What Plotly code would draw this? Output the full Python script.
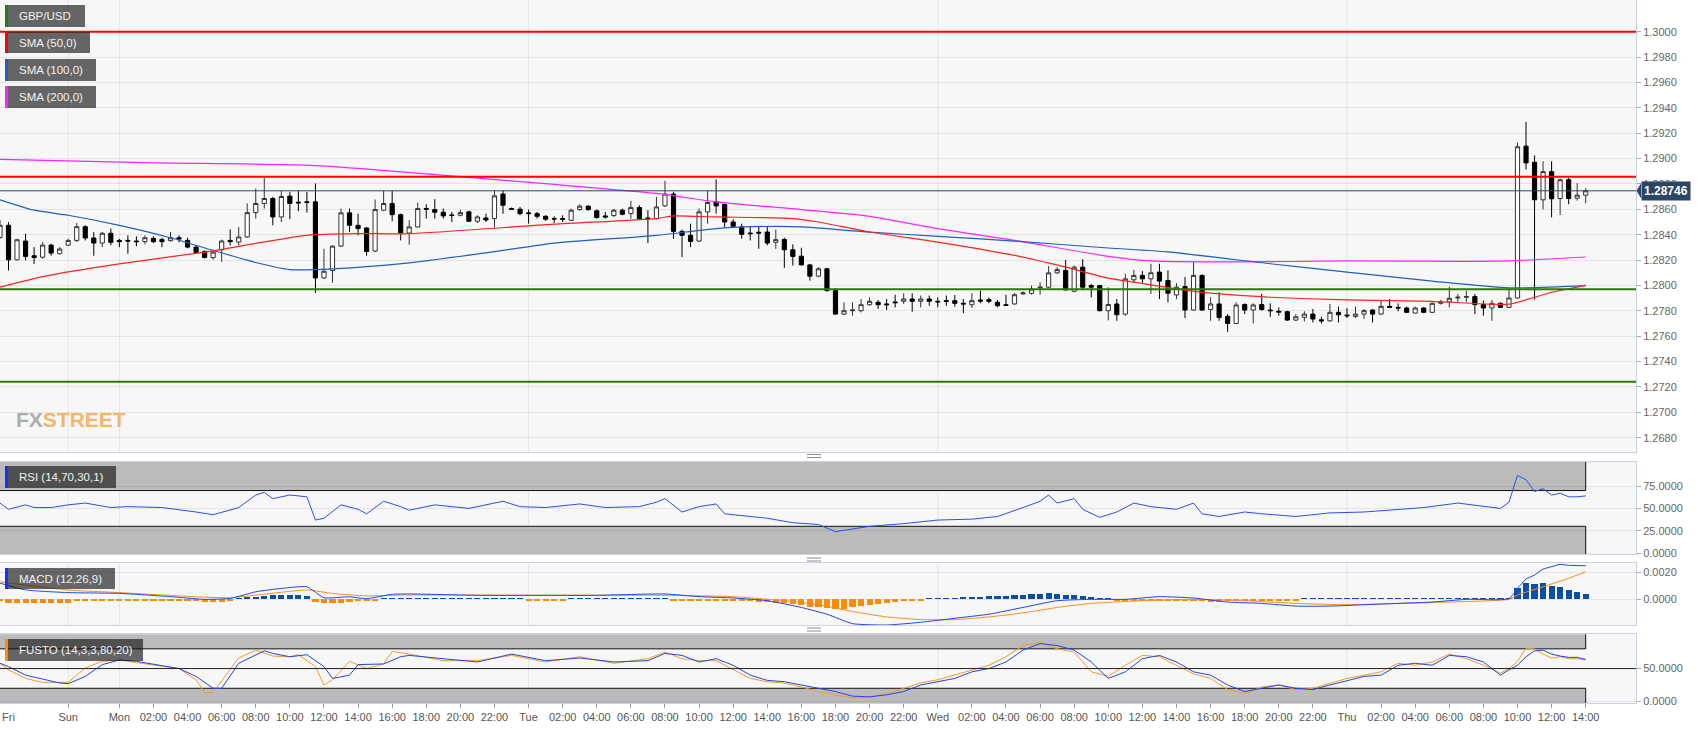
import plotly.graph_objects as go

# ---------------- data (half-hour candles, slot index) ----------------
open_ = [1.28377,1.28474,1.28202,1.28350,1.28234,1.28223,1.28318,1.28250,1.28318,1.28355,
1.28463,1.28374,1.28334,1.28411,1.28355,1.28355,1.28350,1.28345,1.28371,1.28361,
1.28353,1.28376,1.28355,1.28302,1.28268,1.28220,1.28281,1.28355,1.28342,1.28382,
1.28574,1.28646,1.28685,1.28540,1.28704,1.28656,1.28659,1.28659,1.28059,1.28118,
1.28310,1.28572,1.28474,1.28453,1.28271,1.28593,1.28646,1.28558,1.28413,1.28461,
1.28606,1.28598,1.28577,1.28556,1.28553,1.28580,1.28506,1.28532,1.28527,1.28720,
1.28606,1.28601,1.28572,1.28566,1.28545,1.28527,1.28527,1.28514,1.28598,1.28625,
1.28588,1.28548,1.28551,1.28593,1.28566,1.28614,1.28532,1.28527,1.28627,1.28720,
1.28426,1.28395,1.28350,1.28580,1.28659,1.28638,1.28500,1.28461,1.28413,1.28419,
1.28421,1.28340,1.28363,1.28281,1.28231,1.28162,1.28073,1.28131,1.27959,1.27774,
1.27801,1.27801,1.27848,1.27867,1.27854,1.27870,1.27875,1.27893,1.27875,1.27893,
1.27875,1.27880,1.27880,1.27859,1.27848,1.27885,1.27888,1.27867,1.27848,1.27854,
1.27933,1.27938,1.27980,1.27986,1.28099,1.28118,1.27954,1.28144,1.27999,1.27999,
1.27801,1.27854,1.27774,1.28044,1.28079,1.28052,1.28105,1.28039,1.27925,1.27991,
1.27806,1.28079,1.27811,1.27854,1.27756,1.27700,1.27849,1.27806,1.27849,1.27806,
1.27796,1.27793,1.27727,1.27748,1.27774,1.27729,1.27721,1.27788,1.27766,1.27756,
1.27774,1.27806,1.27774,1.27835,1.27827,1.27822,1.27782,1.27822,1.27788,1.27859,
1.27870,1.27901,1.27907,1.27912,1.27849,1.27822,1.27859,1.27827,1.27901,1.29098,
1.28971,1.28675,1.28897,1.28685,1.28833,1.28688,1.28712]
high = [1.28514,1.28500,1.28368,1.28408,1.28302,1.28342,1.28329,1.28302,1.28368,1.28492,
1.28474,1.28421,1.28421,1.28448,1.28368,1.28395,1.28387,1.28395,1.28387,1.28376,
1.28421,1.28395,1.28376,1.28316,1.28276,1.28276,1.28361,1.28442,1.28461,1.28646,
1.28764,1.28849,1.28698,1.28746,1.28738,1.28746,1.28738,1.28804,1.28289,1.28316,
1.28606,1.28606,1.28566,1.28461,1.28677,1.28746,1.28746,1.28566,1.28514,1.28654,
1.28640,1.28680,1.28606,1.28580,1.28598,1.28588,1.28553,1.28566,1.28746,1.28751,
1.28614,1.28619,1.28598,1.28580,1.28553,1.28545,1.28553,1.28606,1.28640,1.28632,
1.28598,1.28580,1.28603,1.28606,1.28667,1.28632,1.28593,1.28698,1.28825,1.28738,
1.28440,1.28487,1.28606,1.28746,1.28836,1.28646,1.28522,1.28487,1.28461,1.28466,
1.28466,1.28440,1.28376,1.28324,1.28297,1.28170,1.28144,1.28139,1.27980,1.27867,
1.27867,1.27893,1.27906,1.27885,1.27893,1.27927,1.27938,1.27938,1.27920,1.27920,
1.27906,1.27920,1.27925,1.27893,1.27938,1.27959,1.27906,1.27885,1.27927,1.27938,
1.27954,1.27999,1.28025,1.28152,1.28144,1.28202,1.28157,1.28207,1.28012,1.28004,
1.27985,1.27893,1.28092,1.28124,1.28113,1.28171,1.28171,1.28119,1.28018,1.28066,
1.28185,1.28087,1.27907,1.27946,1.27774,1.27867,1.27859,1.27859,1.27933,1.27859,
1.27827,1.27801,1.27774,1.27796,1.27814,1.27753,1.27854,1.27833,1.27822,1.27833,
1.27814,1.27814,1.27880,1.27893,1.27859,1.27833,1.27833,1.27827,1.27867,1.27886,
1.27991,1.27933,1.27960,1.27933,1.27880,1.27886,1.27867,1.27973,1.29125,1.29289,
1.29024,1.28979,1.28979,1.28841,1.28847,1.28807,1.28767]
low = [1.28368,1.28118,1.28197,1.28197,1.28170,1.28210,1.28234,1.28244,1.28310,1.28342,
1.28355,1.28234,1.28302,1.28316,1.28302,1.28250,1.28308,1.28324,1.28334,1.28302,
1.28345,1.28340,1.28292,1.28250,1.28213,1.28202,1.28186,1.28316,1.28316,1.28376,
1.28527,1.28606,1.28474,1.28500,1.28522,1.28585,1.28574,1.27941,1.28051,1.28022,
1.28302,1.28421,1.28395,1.28234,1.28263,1.28588,1.28506,1.28355,1.28321,1.28456,
1.28527,1.28527,1.28527,1.28500,1.28545,1.28500,1.28492,1.28500,1.28456,1.28566,
1.28598,1.28553,1.28487,1.28527,1.28509,1.28492,1.28500,1.28509,1.28588,1.28588,
1.28527,1.28527,1.28540,1.28553,1.28527,1.28514,1.28334,1.28519,1.28619,1.28368,
1.28223,1.28302,1.28342,1.28487,1.28566,1.28456,1.28461,1.28368,1.28355,1.28289,
1.28316,1.28289,1.28139,1.28157,1.28157,1.28038,1.28065,1.27951,1.27769,1.27767,
1.27761,1.27788,1.27840,1.27814,1.27806,1.27827,1.27854,1.27793,1.27827,1.27840,
1.27827,1.27840,1.27832,1.27782,1.27822,1.27859,1.27859,1.27827,1.27838,1.27848,
1.27927,1.27927,1.27927,1.27980,1.28091,1.27959,1.27946,1.27972,1.27906,1.27796,
1.27725,1.27721,1.27761,1.28018,1.28018,1.27933,1.27893,1.27867,1.27893,1.27743,
1.27801,1.27801,1.27721,1.27721,1.27634,1.27695,1.27774,1.27700,1.27801,1.27753,
1.27761,1.27721,1.27721,1.27716,1.27708,1.27700,1.27716,1.27708,1.27743,1.27743,
1.27735,1.27708,1.27769,1.27822,1.27796,1.27782,1.27780,1.27782,1.27782,1.27849,
1.27827,1.27867,1.27867,1.27774,1.27761,1.27721,1.27822,1.27822,1.27896,1.28913,
1.27888,1.28600,1.28537,1.28555,1.28640,1.28669,1.28648]
close = [1.28474,1.28202,1.28360,1.28229,1.28220,1.28318,1.28255,1.28287,1.28355,1.28463,
1.28374,1.28334,1.28411,1.28340,1.28345,1.28350,1.28345,1.28376,1.28345,1.28345,
1.28376,1.28366,1.28302,1.28260,1.28220,1.28263,1.28350,1.28345,1.28382,1.28574,
1.28646,1.28685,1.28540,1.28701,1.28646,1.28651,1.28654,1.28059,1.28112,1.28310,
1.28572,1.28474,1.28448,1.28268,1.28598,1.28646,1.28558,1.28413,1.28461,1.28606,
1.28601,1.28577,1.28548,1.28551,1.28574,1.28506,1.28540,1.28516,1.28706,1.28632,
1.28601,1.28566,1.28566,1.28545,1.28522,1.28524,1.28522,1.28593,1.28625,1.28598,
1.28535,1.28540,1.28593,1.28561,1.28614,1.28527,1.28527,1.28619,1.28720,1.28426,
1.28395,1.28347,1.28580,1.28654,1.28627,1.28500,1.28466,1.28403,1.28408,1.28413,
1.28334,1.28361,1.28281,1.28229,1.28162,1.28073,1.28131,1.27959,1.27774,1.27801,
1.27806,1.27848,1.27875,1.27848,1.27848,1.27864,1.27893,1.27875,1.27893,1.27875,
1.27870,1.27875,1.27859,1.27854,1.27880,1.27877,1.27875,1.27840,1.27843,1.27927,
1.27941,1.27972,1.27986,1.28099,1.28125,1.27965,1.28144,1.27986,1.27986,1.27801,
1.27850,1.27769,1.28052,1.28079,1.28052,1.28100,1.28034,1.27939,1.27986,1.27806,
1.28079,1.27806,1.27854,1.27748,1.27700,1.27846,1.27806,1.27846,1.27811,1.27801,
1.27790,1.27727,1.27753,1.27774,1.27735,1.27721,1.27788,1.27769,1.27761,1.27774,
1.27801,1.27774,1.27835,1.27827,1.27822,1.27788,1.27822,1.27788,1.27859,1.27870,
1.27899,1.27907,1.27912,1.27849,1.27822,1.27859,1.27827,1.27901,1.29093,1.28966,
1.28675,1.28897,1.28683,1.28833,1.28685,1.28712,1.28746]

sma50_idx = [0,5,14,24,36,42,48,65,77,79,84,93,96,102,110,119,125,130,133,138,142,149,158,168,177,180,182,184,186]
sma50_val = [1.27986,1.28070,1.28170,1.28263,1.28395,1.28408,1.28408,1.28483,1.28527,1.28548,1.28540,1.28527,1.28500,1.28421,1.28342,1.28237,1.28144,1.28057,1.28026,1.27973,1.27939,1.27907,1.27886,1.27875,1.27852,1.27907,1.27946,1.27973,1.28003]
sma100_idx = [0,4,8,14,20,25,30,34,39,48,59,65,77,84,91,94,102,110,119,130,137,149,158,168,177,186]
sma100_val = [1.28675,1.28593,1.28553,1.28474,1.28376,1.28276,1.28181,1.28125,1.28131,1.28178,1.28276,1.28334,1.28395,1.28448,1.28466,1.28461,1.28421,1.28387,1.28350,1.28295,1.28264,1.28171,1.28105,1.28034,1.27981,1.27999]
sma200_idx = [0,17,36,42,54,65,77,84,94,102,110,119,130,135,144,158,172,177,186]
sma200_val = [1.28994,1.28968,1.28949,1.28923,1.28857,1.28796,1.28725,1.28659,1.28598,1.28545,1.28448,1.28355,1.28229,1.28193,1.28185,1.28193,1.28190,1.28193,1.28224]

resistance_levels = [1.3000, 1.28857]
support_levels = [1.2797, 1.27241]
last_price = 1.28746

rsi_idx = [0,1,3,4,6,8,10,13,15,19,23,25,28,30,31,32,34,36,37,38,40,42,43,45,47,48,51,55,59,61,64,68,71,75,77,78,80,82,84,85,88,90,93,96,98,100,102,106,110,114,117,120,122,123,124,126,127,129,131,133,135,138,140,141,143,146,148,152,156,160,164,167,171,175,176,177,178,179,180,181,182,183,184,185,186]
rsi_val = [56,49,54,51,51,54,56,51,52,51,46,43,51,65,68,61,65,63,37,39,54,49,44,58,52,48,54,50,58,52,51,55,51,52,57,61,46,52,55,44,41,39,34,32,24,27,30,33,37,38,41,51,58,65,56,61,49,40,46,56,52,49,56,44,41,46,44,41,45,46,49,51,56,51,50,57,87,82,69,72,65,67,63,63,64]

macd_idx = [0,3,8,14,20,24,27,30,33,36,38,41,43,46,48,56,62,70,78,82,86,90,94,97,100,104,108,112,116,120,124,128,132,136,140,144,148,152,156,160,164,168,172,177,178,179,180,181,182,183,184,186]
macd_val = [0.0012,0.0007,0.0005,0.00044,0.0002,0.0,0.00007,0.00056,0.00081,0.00093,0.00012,0.00019,0.00005,0.00037,0.0004,0.0003,0.0003,0.0003,0.0004,0.0002,0.0001,-0.0001,-0.0006,-0.0011,-0.0018,-0.0019,-0.0017,-0.0014,-0.0011,-0.0006,-0.0001,0.0,0.0,0.0002,0.0001,-0.0002,-0.0003,-0.0005,-0.0005,-0.0004,-0.0003,-0.0002,0.0,0.00005,0.00081,0.0015,0.0018,0.00224,0.00242,0.00259,0.00252,0.00249]
signal_idx = [0,8,14,23,27,36,39,43,47,62,78,86,92,96,100,104,108,112,116,120,124,128,134,140,146,152,158,164,170,177,178,181,184,186]
signal_val = [0.0013,0.00069,0.0005,0.00019,0.00012,0.00069,0.00044,0.00025,0.00032,0.0003,0.0003,0.0002,-0.0001,-0.0004,-0.0009,-0.0013,-0.0015,-0.0015,-0.0013,-0.0010,-0.0006,-0.0003,-0.0001,0.0,-0.0001,-0.0003,-0.0004,-0.0003,-0.0002,0.0,0.00032,0.00093,0.00156,0.00204]
hist = [-0.00012,
-0.00025,-0.00030,-0.00030,-0.00030,-0.00030,-0.00030,-0.00030,-0.00025,
-0.00015,-0.00015,-0.00013,-0.00013,-0.00012,-0.00012,-0.00012,-0.00012,-0.00012,-0.00012,-0.00012,-0.00012,-0.00012,-0.00013,-0.00015,
-0.00018,-0.00020,-0.00018,-0.00014,
0.00012,
0.00015,0.00020,0.00025,0.00030,0.00030,0.00030,0.00030,0.00028,
-0.00022,-0.00030,-0.00030,-0.00025,
-0.00016,-0.00013,-0.00014,-0.00012,
0.00012,0.00012,0.00012,0.00012,0.00012,0.00012,0.00012,0.00012,0.00012,0.00012,0.00012,0.00012,0.00012,0.00012,0.00012,0.00012,
0.00012,-0.00012,-0.00012,-0.00012,-0.00012,-0.00012,0.00012,0.00012,0.00012,0.00012,0.00012,0.00012,0.00012,0.00012,0.00012,0.00012,0.00012,0.00013,
-0.00012,-0.00012,-0.00012,-0.00012,-0.00012,-0.00012,-0.00012,-0.00012,
-0.00013,-0.00015,-0.00018,-0.00022,-0.00026,-0.00030,-0.00038,-0.00045,-0.00055,-0.00060,-0.00065,-0.00070,-0.00068,-0.00060,
-0.00050,-0.00040,-0.00032,-0.00025,-0.00018,-0.00014,
-0.00012,-0.00012,0.00012,0.00012,0.00012,0.00013,
0.00015,0.00018,0.00020,0.00022,0.00025,0.00028,0.00032,0.00035,0.00038,0.00042,0.00045,0.00042,
0.00035,0.00030,0.00022,0.00016,0.00012,0.00012,
-0.00012,-0.00012,-0.00012,-0.00012,-0.00012,-0.00013,-0.00013,-0.00014,-0.00014,-0.00014,-0.00015,-0.00016,-0.00016,-0.00015,-0.00014,-0.00014,-0.00013,-0.00013,-0.00012,-0.00012,-0.00012,-0.00012,
0.00012,0.00012,0.00012,0.00012,0.00012,0.00012,0.00012,0.00012,0.00012,0.00012,0.00012,0.00012,0.00012,0.00012,0.00012,0.00012,0.00012,0.00012,0.00012,0.00012,0.00012,0.00012,0.00012,0.00012,0.00012,
0.00081,0.00118,0.00113,0.00118,0.00101,0.00089,0.00071,0.00054,0.00041]

stk_idx = [0,1,3,5,7,8,10,12,14,16,18,21,23,25,26,28,31,32,34,36,38,39,41,42,45,47,48,52,56,60,64,68,72,76,78,80,82,84,86,88,90,92,94,96,98,100,102,104,106,108,110,112,114,116,118,120,122,124,126,128,130,132,134,136,138,140,142,144,146,148,150,152,154,156,158,160,162,164,166,168,170,172,174,176,177,178,179,180,181,182,183,184,185,186]
stk_val = [58,53,40,34,28,27,38,56,63,61,57,50,38,20,20,58,77,73,68,71,53,35,40,56,57,68,70,65,60,72,62,66,60,62,73,70,60,65,55,40,32,30,25,20,15,8,7,10,15,25,30,35,45,50,60,78,88,85,78,60,35,45,65,70,60,45,40,25,15,20,25,20,18,25,32,38,40,55,58,55,70,68,60,40,48,55,68,77,78,72,69,67,67,64]
std_idx = [0,1,3,5,8,10,12,14,16,21,23,24,25,28,30,32,34,35,37,38,39,41,43,45,46,48,52,56,60,64,68,72,76,78,80,82,84,86,88,90,92,94,96,98,100,102,104,106,108,110,112,114,116,118,120,122,124,126,128,130,132,134,136,138,140,142,144,146,148,150,152,154,156,158,160,162,164,166,168,170,172,174,176,177,178,179,180,181,182,183,184,185,186]
std_val = [58,48,35,29,29,51,61,63,59,50,33,13,14,66,78,69,68,71,53,25,33,61,50,57,76,72,62,62,70,60,68,58,65,75,65,62,62,48,35,30,28,22,15,10,5,6,12,20,28,33,40,48,55,68,85,90,80,75,45,38,55,70,68,55,42,35,18,12,22,25,18,20,28,35,40,45,58,55,60,72,65,55,43,50,61,81,80,72,66,68,65,65,63]

tick_idx = [8,14,18,22,26,30,34,38,42,46,50,54,58,62,66,70,74,78,82,86,90,94,98,102,106,
            110,114,118,122,126,130,134,138,142,146,150,154,158,162,166,170,174,178,182,186]
tick_text = ["Sun","Mon","02:00","04:00","06:00","08:00","10:00","12:00","14:00","16:00","18:00","20:00","22:00",
             "Tue","02:00","04:00","06:00","08:00","10:00","12:00","14:00","16:00","18:00","20:00","22:00",
             "Wed","02:00","04:00","06:00","08:00","10:00","12:00","14:00","16:00","18:00","20:00","22:00",
             "Thu","02:00","04:00","06:00","08:00","10:00","12:00","14:00"]
day_idx = [8, 14, 62, 110, 158]
first_label = "Fri"

n = len(close)
idx = list(range(n))

# ---------------- layout geometry ----------------
W, H = 1707, 729
ML, MR, MT, MB = 0, 71, 0, 26
PW, PH = W - ML - MR, H - MT - MB
def xp(px): return px / PW
def yp(py): return 1 - py / PH

dom_main = [yp(452), 1.0]
dom_rsi = [yp(554), yp(461.7)]
dom_macd = [yp(625), yp(563.3)]
dom_sto = [0.0, yp(634.3)]

XR = [0, 191.9]
GRID = "rgba(0,0,0,0.075)"
BORDER = "#c9d2e3"
SANS = "Liberation Sans, Arial, sans-serif"
AXFONT = dict(family=SANS, size=11, color="#666666")
XFONT = dict(family=SANS, size=11, color="#555555")

fig = go.Figure()

fig.add_trace(go.Candlestick(
    x=idx, open=open_, high=high, low=low, close=close,
    increasing=dict(fillcolor="#ffffff", line=dict(color="#333333", width=1)),
    decreasing=dict(fillcolor="#000000", line=dict(color="#000000", width=1)),
    whiskerwidth=0, xaxis="x", yaxis="y", showlegend=False, hoverinfo="skip"))

for xs, ys, col in [(sma200_idx, sma200_val, "#ff22ff"), (sma100_idx, sma100_val, "#1f5fbf"),
                    (sma50_idx, sma50_val, "#ff2222")]:
    fig.add_trace(go.Scatter(x=xs, y=ys, mode="lines", line=dict(color=col, width=1.2, shape="spline", smoothing=0.6),
                             xaxis="x", yaxis="y", showlegend=False, hoverinfo="skip"))

fig.add_trace(go.Scatter(x=rsi_idx, y=rsi_val, mode="lines", line=dict(color="#2b4ff0", width=1),
                         xaxis="x2", yaxis="y2", showlegend=False, hoverinfo="skip"))

fig.add_trace(go.Bar(x=idx[:len(hist)], y=hist, width=0.72,
                     marker=dict(color=["#0b4ea8" if v >= 0 else "#ff8c00" for v in hist], line=dict(width=0)),
                     xaxis="x3", yaxis="y3", showlegend=False, hoverinfo="skip"))
fig.add_trace(go.Scatter(x=signal_idx, y=signal_val, mode="lines", line=dict(color="#ff8c1a", width=1, shape="spline", smoothing=0.5),
                         xaxis="x3", yaxis="y3", showlegend=False, hoverinfo="skip"))
fig.add_trace(go.Scatter(x=macd_idx, y=macd_val, mode="lines", line=dict(color="#2244ee", width=1, shape="spline", smoothing=0.5),
                         xaxis="x3", yaxis="y3", showlegend=False, hoverinfo="skip"))

fig.add_trace(go.Scatter(x=std_idx, y=std_val, mode="lines", line=dict(color="#f39a2a", width=1),
                         xaxis="x4", yaxis="y4", showlegend=False, hoverinfo="skip"))
fig.add_trace(go.Scatter(x=stk_idx, y=stk_val, mode="lines", line=dict(color="#2244ee", width=1),
                         xaxis="x4", yaxis="y4", showlegend=False, hoverinfo="skip"))

def xaxis_cfg(anchor, labels=False):
    d = dict(range=XR, anchor=anchor, showgrid=False, zeroline=False, showline=True, mirror=True,
             linecolor=BORDER, linewidth=1, fixedrange=True, automargin=False)
    if labels:
        d.update(tickmode="array", tickvals=tick_idx, ticktext=tick_text, ticks="outside", ticklen=4,
                 tickcolor="#999999", tickfont=XFONT, ticklabelstandoff=0)
    else:
        d.update(showticklabels=False, ticks="")
    return d

def yaxis_cfg(anchor, dom, rng, tv, fmt=".4f"):
    return dict(domain=dom, range=rng, anchor=anchor, side="right", tickmode="array", tickvals=tv,
                tickformat=fmt, ticks="outside", ticklen=4, tickcolor="#aaaaaa", tickfont=AXFONT,
                showgrid=True, gridcolor=GRID, gridwidth=1, zeroline=False, showline=True, mirror=True,
                linecolor=BORDER, linewidth=1, fixedrange=True, automargin=False)

main_ticks = [1.2680 + 0.002 * k for k in range(17)]

fig.update_layout(
    width=W, height=H, autosize=False,
    margin=dict(l=ML, r=MR, t=MT, b=MB, autoexpand=False),
    paper_bgcolor="#ffffff", plot_bgcolor="#f7f7f7",
    bargap=0, showlegend=False,
    xaxis=dict(xaxis_cfg("y"), rangeslider=dict(visible=False)),
    xaxis2=xaxis_cfg("y2"), xaxis3=xaxis_cfg("y3"), xaxis4=xaxis_cfg("y4", labels=True),
    yaxis=yaxis_cfg("x", dom_main, [1.26687, 1.30250], main_ticks),
    yaxis2=yaxis_cfg("x2", dom_rsi, [-1, 102.3], [0, 25, 50, 75]),
    yaxis3=yaxis_cfg("x3", dom_macd, [-0.0019, 0.00267], [0, 0.002]),
    yaxis4=yaxis_cfg("x4", dom_sto, [-2.4, 102.1], [0, 50]),
)

shapes = []
# indicator bands
for xr, yr, lo, hi in [("x2", "y2", 70, 110), ("x2", "y2", -10, 30), ("x4", "y4", 80, 110), ("x4", "y4", -10, 20)]:
    shapes.append(dict(type="rect", xref=xr, yref=yr, x0=-2, x1=idx[-1], y0=lo, y1=hi,
                       fillcolor="#bbbbbb", line=dict(color="#111111", width=1), layer="below"))
# day grid lines
for ax in ["", "2", "3", "4"]:
    for d in day_idx:
        shapes.append(dict(type="line", xref="x" + ax, yref=("y" + ax) + " domain", x0=d, x1=d, y0=0, y1=1,
                           line=dict(color=GRID, width=1), layer="below"))
# stochastic middle line
shapes.append(dict(type="line", xref="x4 domain", yref="y4", x0=0, x1=1, y0=50, y1=50,
                   line=dict(color="#222222", width=1), layer="above"))
# price levels
for lv in resistance_levels:
    shapes.append(dict(type="line", xref="x domain", yref="y", x0=0, x1=1, y0=lv, y1=lv,
                       line=dict(color="#ff0000", width=2), layer="above"))
for lv in support_levels:
    shapes.append(dict(type="line", xref="x domain", yref="y", x0=0, x1=1, y0=lv, y1=lv,
                       line=dict(color="#2a7a0a", width=2), layer="above"))
shapes.append(dict(type="line", xref="x domain", yref="y", x0=0, x1=1, y0=last_price, y1=last_price,
                   line=dict(color="#2c4566", width=1), layer="above"))
# price tag arrow
dy = 7.5 * (1.30250 - 1.26687) / 452
shapes.append(dict(type="path", xref="paper", yref="y",
                   path=f"M {xp(1636.5)},{last_price} L {xp(1641)},{last_price+dy} L {xp(1641)},{last_price-dy} Z",
                   fillcolor="#2c4566", line=dict(width=0), layer="above"))

# label boxes
BOXC = "rgba(18,18,18,0.64)"
labels = [("GBP/USD", 5, 85, 5, 27, "#2a7a0a"), ("SMA (50,0)", 5, 90, 32, 53, "#ff0000"),
          ("SMA (100,0)", 5, 96, 59, 81, "#1f5fbf"), ("SMA (200,0)", 5, 96, 86, 108, "#ff22ff"),
          ("RSI (14,70,30,1)", 5, 116, 466, 488, "#1133ff"), ("MACD (12,26,9)", 5, 115, 568, 589, "#1133ff"),
          ("FUSTO (14,3,3,80,20)", 5, 143, 639, 661, "#ff8c00")]
annotations = []
for txt, x0, x1, y0, y1, col in labels:
    shapes.append(dict(type="rect", xref="paper", yref="paper", x0=xp(x0), x1=xp(x1), y0=yp(y1), y1=yp(y0),
                       fillcolor=BOXC, line=dict(width=0), layer="above"))
    shapes.append(dict(type="rect", xref="paper", yref="paper", x0=xp(x0), x1=xp(x0 + 3), y0=yp(y1), y1=yp(y0),
                       fillcolor=col, line=dict(width=0), layer="above"))
    annotations.append(dict(xref="paper", yref="paper", x=xp(x0 + 12), y=yp((y0 + y1) / 2), text=txt,
                            showarrow=False, xanchor="left", yanchor="middle",
                            font=dict(family=SANS, size=11.5, color="#f2f2f2")))

# panel separators
for sy in [456, 559.5, 629.5]:
    for off in (-1.5, 1.5):
        shapes.append(dict(type="line", xref="paper", yref="paper", x0=xp(807), x1=xp(821),
                           y0=yp(sy + off), y1=yp(sy + off), line=dict(color="#8a8a8a", width=1)))

# price tag
annotations.append(dict(xref="paper", yref="y", x=xp(1641), y=last_price, text=f"<b>{last_price:.5f}</b>",
                        showarrow=False, xanchor="left", yanchor="middle", bgcolor="#2c4566", borderpad=2,
                        font=dict(family=SANS, size=12, color="#ffffff")))
# first x label
annotations.append(dict(xref="paper", yref="paper", x=0, y=yp(717), text=first_label, showarrow=False,
                        xanchor="left", yanchor="middle", font=XFONT))
# watermark
annotations.append(dict(xref="paper", yref="paper", x=xp(14), y=yp(419), showarrow=False, xanchor="left", yanchor="middle",
                        text="<b><span style='color:#a5a5a5'>FX</span><span style='color:#f4b060'>STREET</span></b>",
                        font=dict(family=SANS, size=21), opacity=0.9))

fig.update_layout(shapes=shapes, annotations=annotations)

fig.write_html("out.html", config={"displayModeBar": False, "staticPlot": True},
               post_script="document.body.style.margin='0';document.body.style.overflow='hidden';")
